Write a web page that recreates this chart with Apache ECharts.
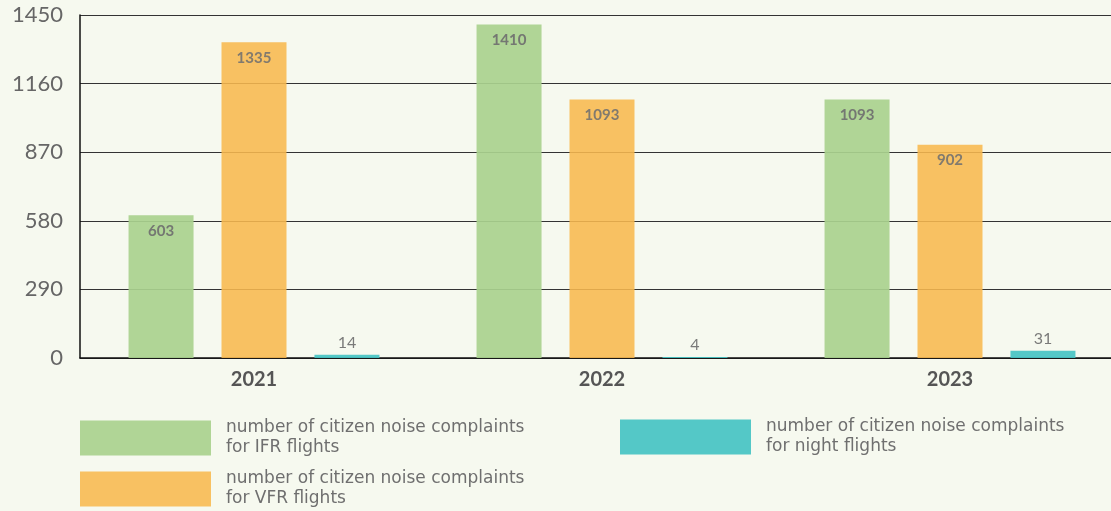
<!DOCTYPE html>
<html>
<head>
<meta charset="utf-8">
<script src="https://cdn.jsdelivr.net/npm/echarts@6/dist/echarts.min.js"></script>
<style>
  html, body { margin: 0; padding: 0; background: #f6f9ef; }
  #chart { width: 1111px; height: 511px; }
</style>
</head>
<body>
<div id="chart"></div>
<script>
const years = ['2021', '2022', '2023']
const ifrValues = [603, 1410, 1093]
const vfrValues = [1335, 1093, 902]
const nightValues = [14, 4, 31]
const seriesNames = [
    'number of citizen noise complaints\nfor IFR flights',
    'number of citizen noise complaints\nfor VFR flights',
    'number of citizen noise complaints\nfor night flights'
]
const colorList = ['#a9d18e', '#f8b84e', '#45c3c3']

const chart = echarts.init(document.getElementById('chart'))

const insideLabel = {
    show: true,
    position: 'insideTop',
    distance: 8,
    color: '#6f6f6f',
    fontFamily: 'Lato',
    fontWeight: 'bold',
    fontSize: 15
}

const legendText = {
    color: '#6f6f6f',
    fontFamily: 'DejaVu Sans',
    fontSize: 17,
    lineHeight: 20,
    padding: [0, 0, 0, 10]
}

// one legend per item so they sit where the reference has them
function legendAt (name, left, top) {
    return {
        left: left,
        top: top,
        padding: 0,
        itemWidth: 131,
        itemHeight: 35,
        icon: 'rect',
        textStyle: legendText,
        data: [name]
    }
}

chart.setOption({
    backgroundColor: '#f6f9ef',
    animation: false,
    color: colorList,
    grid: {
        left: 80,
        top: 15,
        width: 1044,
        height: 343,
        outerBoundsMode: 'none'
    },
    legend: [
        legendAt(seriesNames[0], 80, 418),
        legendAt(seriesNames[1], 80, 469),
        legendAt(seriesNames[2], 620, 417)
    ],
    xAxis: {
        type: 'category',
        data: years,
        axisLine: { show: true, lineStyle: { color: '#111', width: 1.5 } },
        axisTick: { show: false },
        axisLabel: {
            color: '#555',
            fontFamily: 'Lato',
            fontWeight: 'bold',
            fontSize: 20,
            margin: 12
        }
    },
    yAxis: {
        type: 'value',
        min: 0,
        max: 1450,
        interval: 290,
        axisLine: { show: true, lineStyle: { color: '#111', width: 1.5 } },
        axisTick: { show: false },
        axisLabel: {
            color: '#666',
            fontFamily: 'Lato',
            fontSize: 22,
            margin: 17,
            formatter: v => String(v)
        },
        splitLine: { lineStyle: { color: '#333', width: 1 } }
    },
    series: [
        {
            name: seriesNames[0],
            type: 'bar',
            data: ifrValues,
            barWidth: 65,
            barGap: '43%',
            itemStyle: { color: colorList[0], opacity: 0.92 },
            label: insideLabel
        },
        {
            name: seriesNames[1],
            type: 'bar',
            data: vfrValues,
            barWidth: 65,
            itemStyle: { color: colorList[1], opacity: 0.88 },
            label: insideLabel
        },
        {
            name: seriesNames[2],
            type: 'bar',
            data: nightValues,
            barWidth: 65,
            itemStyle: { color: colorList[2], opacity: 0.92 },
            label: {
                show: true,
                position: 'top',
                distance: 4,
                color: '#6f6f6f',
                fontFamily: 'Lato',
                fontSize: 16
            }
        }
    ]
})
</script>
</body>
</html>
